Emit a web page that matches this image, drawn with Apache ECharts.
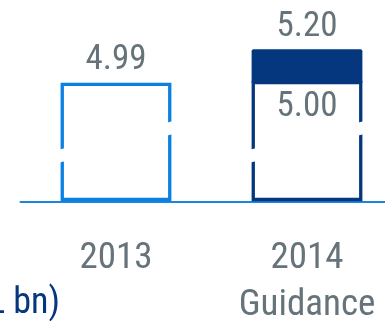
<!DOCTYPE html>
<html>
<head>
<meta charset="utf-8">
<script src="https://cdn.jsdelivr.net/npm/echarts@6/dist/echarts.min.js"></script>
<style>
  html, body { margin: 0; padding: 0; background: #ffffff; }
  #chart { width: 385px; height: 321px; }
</style>
</head>
<body>
<div id="chart"></div>
<script>
// Net revenue, actual vs. guidance
const categories = ['2013', '2014\nGuidance'];
const outlineValues = [4.99, 5.00];      // outlined bar heights
const guidanceTops = [null, 5.20];       // top of the filled guidance band
const unitText = '(BRL bn)';

// Axis break that hides most of the bar body
const axisBreak = { start: 0.36, end: 4.646 };

const FONT = "'Roboto Condensed', Roboto, sans-serif";
const TEXT_GRAY = '#66737b';
const LIGHT_BLUE = '#0a80e4';
const NAVY = '#04377d';

const chart = echarts.init(document.getElementById('chart'), null, { renderer: 'canvas' });

function renderBar(params, api) {
  const i = api.value(0);
  const v = api.value(1);
  const top = api.value(2);
  const color = i === 0 ? LIGHT_BLUE : NAVY;
  const band = api.size([1, 0])[0];
  const w = band * 0.58;
  const lw = 3.3;
  const base = api.coord([i, 0]);
  const cx = base[0];
  const yBase = base[1] - 2.5;
  const yVal = api.coord([i, v])[1];
  const xl = cx - w / 2 + lw / 2;
  const xr = cx + w / 2 - lw / 2;
  const children = [];

  children.push({
    type: 'rect',
    shape: { x: xl, y: yVal, width: xr - xl, height: yBase - yVal },
    style: { fill: 'none', stroke: color, lineWidth: lw }
  });

  let labelTopY = yVal - lw / 2;
  if (!isNaN(top)) {
    const yTop = api.coord([i, top])[1];
    children.push({
      type: 'rect',
      shape: { x: cx - w / 2, y: yTop, width: w, height: yVal - yTop, r: [2, 2, 0, 0] },
      style: { fill: color }
    });
    labelTopY = yTop;
    children.push({
      type: 'text',
      x: cx, y: yVal + 24.5,
      style: { text: v.toFixed(2), fill: TEXT_GRAY, font: '35px ' + FONT, align: 'center', verticalAlign: 'middle' }
    });
  }

  // slanted white cut marking the break on both sides of the bar
  const yBreak = api.coord([i, axisBreak.start])[1];
  const half = 13 / 2;
  const x0 = cx - w / 2 - 4;
  const x1 = cx + w / 2 + 4;
  const rise = 0.25 * (x1 - x0) / 2;
  children.push({
    type: 'polygon',
    shape: { points: [
      [x0, yBreak + rise + half], [x0, yBreak + rise - half],
      [x1, yBreak - rise - half], [x1, yBreak - rise + half]
    ] },
    style: { fill: '#ffffff' }
  });

  const topValue = isNaN(top) ? v : top;
  children.push({
    type: 'text',
    x: cx, y: labelTopY - 22.5,
    style: { text: topValue.toFixed(2), fill: TEXT_GRAY, font: '35px ' + FONT, align: 'center', verticalAlign: 'middle' }
  });

  return { type: 'group', children: children };
}

chart.setOption({
  backgroundColor: '#ffffff',
  animation: false,
  grid: { left: 20.5, top: 49.3, width: 382, height: 152.7, outerBoundsMode: 'none', containLabel: false },
  xAxis: {
    type: 'category',
    data: categories,
    axisLine: { show: true, lineStyle: { color: '#1a86e0', width: 2 } },
    axisTick: { show: false },
    axisLabel: { color: TEXT_GRAY, fontFamily: FONT, fontSize: 37, lineHeight: 47, margin: 33 }
  },
  yAxis: {
    type: 'value',
    min: 0,
    max: 5.2,
    show: false,
    splitLine: { show: false },
    breaks: [{ start: axisBreak.start, end: axisBreak.end, gap: 0 }]
  },
  graphic: [{
    type: 'text',
    x: 60, y: 304,
    style: { text: unitText, fill: NAVY, font: '36px ' + FONT, align: 'right', verticalAlign: 'middle' }
  }],
  series: [{
    type: 'custom',
    renderItem: renderBar,
    encode: { x: 0, y: [1, 2] },
    data: categories.map((c, i) => [i, outlineValues[i], guidanceTops[i]])
  }]
});
</script>
</body>
</html>
